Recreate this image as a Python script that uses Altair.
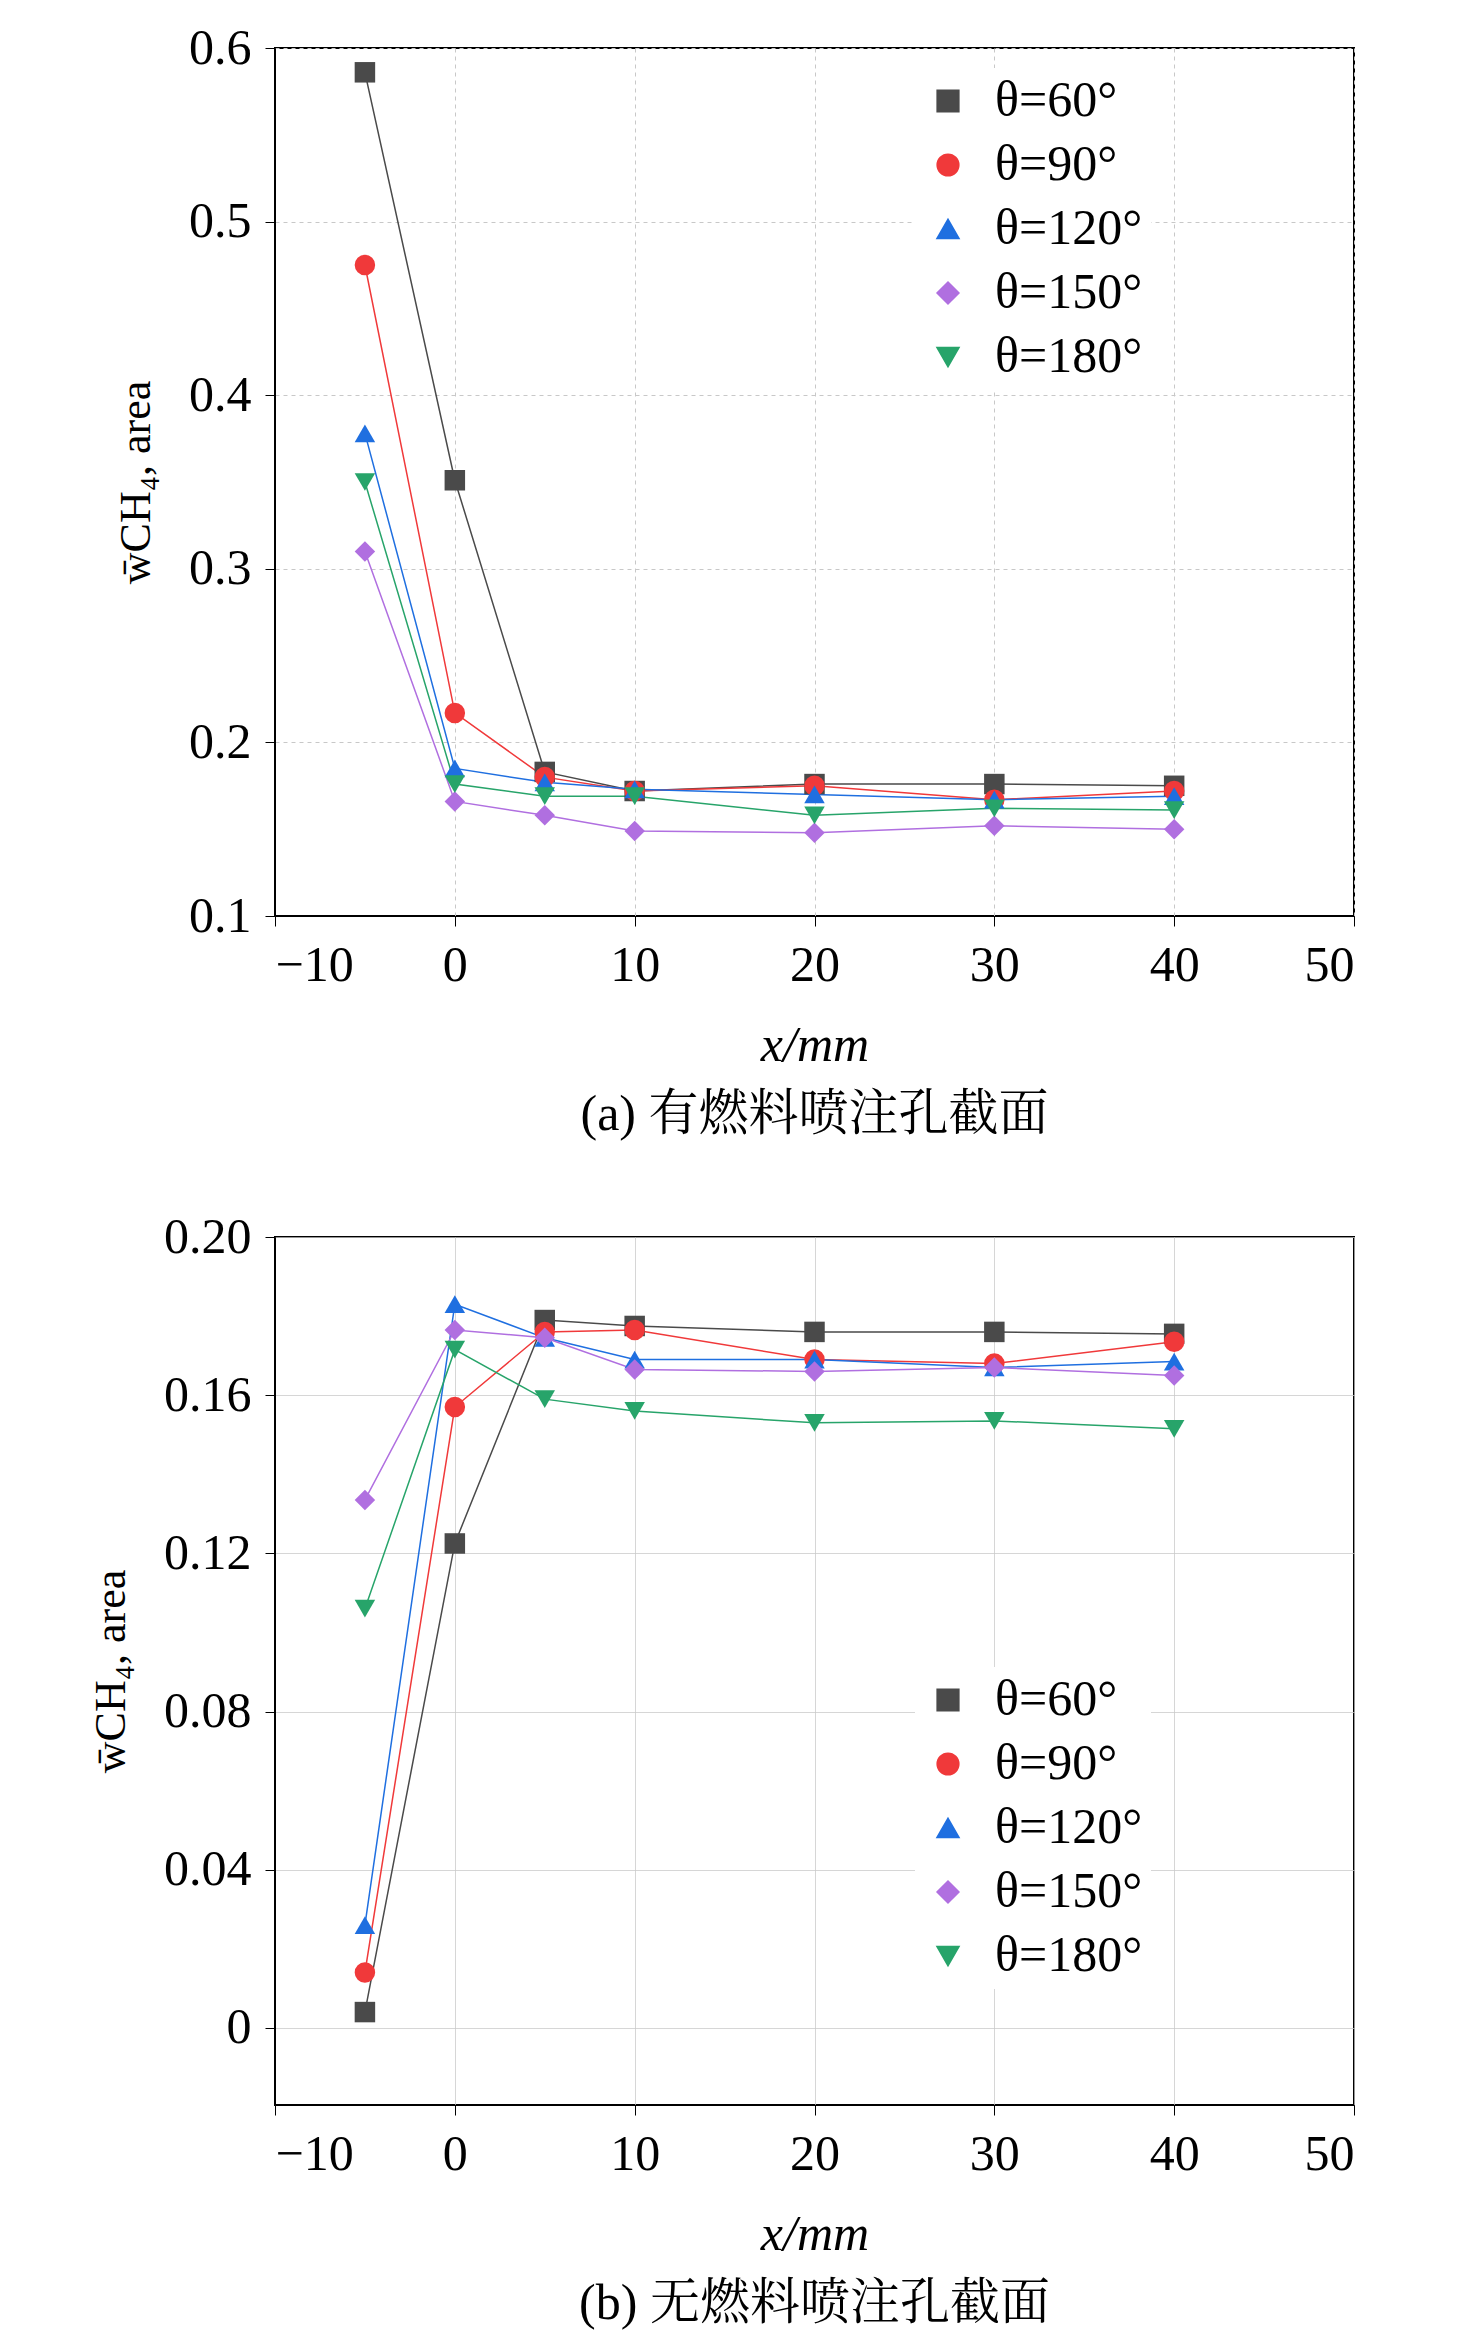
import altair as alt
import pandas as pd

X = [-5, 0, 5, 10, 20, 30, 40]
SERIES = ["θ=60°", "θ=90°", "θ=120°", "θ=150°", "θ=180°"]
COLORS = ["#4a4a4a", "#f0393a", "#1f6fe0", "#b06fe0", "#27a46a"]
SHAPES = ["square", "circle", "triangle-up", "diamond", "triangle-down"]

A_60 = [0.586, 0.351, 0.183, 0.172, 0.176, 0.176, 0.175]
A_90 = [0.475, 0.217, 0.180, 0.172, 0.175, 0.167, 0.172]
A_120 = [0.378, 0.185, 0.177, 0.173, 0.170, 0.167, 0.169]
A_150 = [0.310, 0.166, 0.158, 0.149, 0.148, 0.152, 0.150]
A_180 = [0.350, 0.176, 0.169, 0.169, 0.158, 0.162, 0.161]
A_TICKS = [0.1, 0.2, 0.3, 0.4, 0.5, 0.6]

B_60 = [0.004, 0.1225, 0.179, 0.1775, 0.176, 0.176, 0.1755]
B_90 = [0.014, 0.157, 0.176, 0.1765, 0.169, 0.168, 0.1735]
B_120 = [0.026, 0.183, 0.1745, 0.169, 0.169, 0.167, 0.1685]
B_150 = [0.1335, 0.1765, 0.1745, 0.1665, 0.166, 0.167, 0.165]
B_180 = [0.106, 0.1715, 0.159, 0.156, 0.153, 0.1535, 0.1515]
B_TICKS = [0, 0.04, 0.08, 0.12, 0.16, 0.20]

FONT = "Times New Roman, Liberation Serif, serif"
CJK = "Times New Roman, Liberation Serif, Noto Serif CJK SC, Noto Sans CJK SC"


def long_df(cols):
    rows = []
    for name, vals in zip(SERIES, cols):
        for x, v in zip(X, vals):
            rows.append({"x": x, "w": v, "series": name})
    return pd.DataFrame(rows)


def panel(df, ydomain, yticks, label_expr, caption, legend_y, grid_dash):
    enc_color = alt.Color(
        "series:N",
        sort=SERIES,
        scale=alt.Scale(domain=SERIES, range=COLORS),
        legend=alt.Legend(
            title=None, orient="none", legendX=640, legendY=legend_y,
            labelFont=FONT, labelFontSize=50, symbolSize=450, symbolStrokeWidth=2,
            rowPadding=14, labelOffset=22, fillColor="white", padding=8,
        ),
    )
    enc_shape = alt.Shape(
        "series:N", sort=SERIES,
        scale=alt.Scale(domain=SERIES, range=SHAPES), legend=None,
    )
    x = alt.X(
        "x:Q", title="x/mm",
        scale=alt.Scale(domain=[-10, 50], nice=False),
        axis=alt.Axis(values=list(range(-10, 51, 10)), labelFontSize=50,
                      titleFontSize=50, titleFontStyle="italic", labelPadding=14,
                      titlePadding=30, grid=True, gridDash=grid_dash, gridColor="#c8c8c8",
                      tickSize=10, domainColor="black", tickColor="black",
                      labelFont=FONT, titleFont=FONT),
    )
    y = alt.Y(
        "w:Q", title="w̄CH₄, area",
        scale=alt.Scale(domain=ydomain, nice=False, zero=False),
        axis=alt.Axis(values=yticks, labelExpr=label_expr, labelFontSize=50,
                      titleFontSize=44, titlePadding=30, labelPadding=14, grid=True,
                      gridDash=grid_dash, gridColor="#c8c8c8", tickSize=10,
                      domainColor="black", tickColor="black",
                      labelFont=FONT, titleFont=FONT),
    )
    lines = alt.Chart(df).mark_line(strokeWidth=1.5).encode(
        x=x, y=y, color=enc_color, detail="series:N"
    )
    pts = alt.Chart(df).mark_point(filled=True, size=420, opacity=1).encode(
        x="x:Q", y="w:Q", color=alt.Color("series:N", sort=SERIES, legend=None,
                                          scale=alt.Scale(domain=SERIES, range=COLORS)),
        shape=enc_shape,
    )
    return alt.layer(lines, pts).properties(
        width=1079, height=868,
        title=alt.TitleParams(caption, orient="bottom", font=CJK, fontSize=50,
                              fontWeight="normal", offset=20),
    )


top = panel(long_df([A_60, A_90, A_120, A_150, A_180]), [0.1, 0.6], A_TICKS,
            "format(datum.value, '.1f')", "(a) 有燃料喷注孔截面", 20, [4, 4])
bottom = panel(long_df([B_60, B_90, B_120, B_150, B_180]), [-0.0195, 0.2], B_TICKS,
               "datum.value == 0 ? '0' : format(datum.value, '.2f')",
               "(b) 无燃料喷注孔截面", 430, [1, 0])

chart = (
    alt.vconcat(top, bottom, spacing=70)
    .resolve_scale(color="independent", shape="independent")
    .properties(padding={"left": 80, "top": 14, "right": 10, "bottom": 10})
    .configure(font=FONT)
    .configure_view(stroke="black", strokeWidth=2)
    .configure_axis(labelColor="black", titleColor="black", titleFontWeight="normal")
)

chart.save("out.html", embed_options={"renderer": "svg", "actions": False})
